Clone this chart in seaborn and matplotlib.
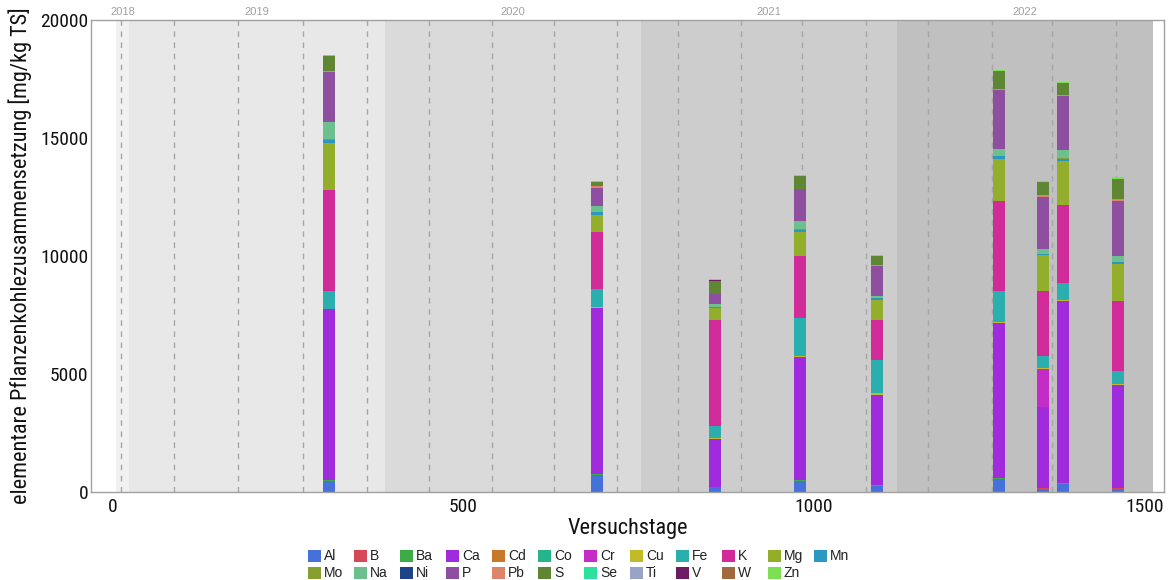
import matplotlib
matplotlib.use("Agg")
import matplotlib.pyplot as plt
import matplotlib.transforms as mtransforms
from matplotlib import font_manager as fm
from matplotlib.patches import Rectangle
import pandas as pd
import seaborn as sns

# Sampling days (Versuchstage) of the biochar analyses
days = [309, 691, 860, 980, 1091, 1265, 1328, 1356, 1435]

elements = ["Al", "B", "Ba", "Ca", "Cd", "Co", "Cr", "Cu", "Fe", "K", "Mg", "Mn",
            "Mo", "Na", "Ni", "P", "Pb", "S", "Se", "Ti", "V", "W", "Zn"]

# Element contents per sampling day [mg/kg TS]
al = [453, 700, 212, 453, 254, 551, 127, 360, 114]
b = [0, 0, 0, 0, 0, 0, 55, 0, 68]
ba = [55, 50, 0, 55, 42, 30, 0, 40, 0]
ca = [7245, 7050, 2020, 5200, 3813, 6567, 3432, 7690, 4339]
cd = [0, 0, 0, 0, 0, 0, 0, 0, 0]
co = [0, 0, 0, 0, 0, 0, 0, 0, 0]
cr = [0, 0, 0, 0, 0, 0, 1597, 0, 0]
cu = [20, 50, 55, 42, 70, 40, 55, 30, 55]
fe = [763, 750, 495, 1624, 1412, 1316, 508, 734, 551]
k = [4280, 2400, 4490, 2627, 1695, 3813, 2741, 3305, 2966]
mg = [1990, 750, 520, 1017, 847, 1780, 1513, 1850, 1568]
mn = [127, 100, 42, 85, 85, 127, 55, 120, 85]
mo = [20, 20, 10, 20, 15, 20, 20, 20, 20]
na = [720, 250, 113, 339, 85, 297, 212, 330, 254]
ni = [0, 0, 0, 0, 0, 0, 0, 0, 0]
p = [2120, 750, 424, 1356, 1271, 2487, 2203, 2300, 2330]
pb = [42, 80, 20, 20, 20, 30, 55, 60, 72]
s = [636, 200, 550, 565, 380, 763, 551, 480, 847]
se = [0, 0, 0, 0, 0, 0, 0, 0, 0]
ti = [0, 0, 0, 0, 0, 0, 0, 0, 0]
v = [0, 0, 40, 0, 0, 0, 0, 0, 0]
w = [0, 0, 0, 0, 0, 0, 0, 0, 0]
zn = [55, 40, 30, 42, 40, 68, 42, 60, 68]

element_values = [al, b, ba, ca, cd, co, cr, cu, fe, k, mg, mn,
                  mo, na, ni, p, pb, s, se, ti, v, w, zn]

element_colors = ["#4671DB", "#D64855", "#3CAD46", "#A02BDD", "#C97729", "#26B48C",
                  "#C42CC8", "#C3BA2A", "#2AAEAE", "#D02B98", "#93AE2A", "#2A98C0",
                  "#879F2D", "#6CC08D", "#1C4486", "#8F4FA0", "#DD846A", "#5F8733",
                  "#2EE09E", "#99A3C8", "#6E1B66", "#A06A3C", "#7DE052"]

# Calendar years along the day axis
years = ["2018", "2019", "2020", "2021", "2022"]
year_start = [5, 23, 388, 754, 1119]
year_end = [23, 388, 754, 1119, 1484]
year_shade = ["#f1f1f1", "#e8e8e8", "#dadada", "#cdcdcd", "#c0c0c0"]

# Dashed reference lines (every ~3 months)
marker_days = [12, 87, 179, 272, 363, 451, 541, 630, 720, 806, 896, 983,
               1075, 1163, 1254, 1340, 1431]

bar_width = 17

rows = []
for el, vals in zip(elements, element_values):
    for d, val in zip(days, vals):
        rows.append({"Versuchstag": d, "Element": el, "Gehalt": val})
df = pd.DataFrame(rows)

sns.set_theme(style="white")
available = {f.name for f in fm.fontManager.ttflist}
narrow = next((n for n in ["Liberation Sans Narrow", "Roboto Condensed", "Open Sans Condensed"]
               if n in available), "Liberation Sans")
plt.rcParams["font.family"] = ["Liberation Sans", "DejaVu Sans"]

W, H = 1171, 580
fig = plt.figure(figsize=(W / 100, H / 100), dpi=100)
ax = fig.add_axes([91 / W, (H - 492) / H, (1164 - 91) / W, (492 - 20) / H])

for ys, ye, c in zip(year_start, year_end, year_shade):
    ax.axvspan(ys, ye, color=c, lw=0, zorder=0)
for md in marker_days:
    ax.axvline(md, color="#a6a6a6", lw=1.0, ls=(0, (4, 4)), zorder=0.5)

edges = sorted([d - bar_width / 2 for d in days] + [d + bar_width / 2 for d in days])
palette = dict(zip(elements, element_colors))
sns.histplot(data=df, x="Versuchstag", weights="Gehalt", hue="Element",
             hue_order=elements[::-1], palette=palette, multiple="stack",
             bins=edges, alpha=1, linewidth=0, legend=False, ax=ax, zorder=2)

ax.set_xlim(-31, 1500)
ax.set_ylim(0, 20000)
ax.set_xticks([0, 500, 1000, 1500])
ax.set_yticks([0, 5000, 10000, 15000, 20000])
ax.tick_params(length=0, labelsize=14, colors="#111111")
ax.tick_params(axis="x", pad=4)
ax.tick_params(axis="y", pad=2)
for lab in ax.get_xticklabels() + ax.get_yticklabels():
    lab.set_family([narrow, "DejaVu Sans"])
ax.get_xticklabels()[-1].set_horizontalalignment("right")

ax.set_xlabel("Versuchstage", fontsize=16, family=[narrow, "DejaVu Sans"],
              color="#111111", labelpad=2)
ax.set_ylabel("elementare Pflanzenkohlezusammensetzung [mg/kg TS]", fontsize=16,
              family=[narrow, "DejaVu Sans"], color="#111111", labelpad=6)

for sp in ax.spines.values():
    sp.set_color("#a0a0a0")
    sp.set_linewidth(1.0)

trans = mtransforms.blended_transform_factory(ax.transData, ax.transAxes)
for yr, ys, ye in zip(years, year_start, year_end):
    ax.text((ys + ye) / 2, 1.006, yr, transform=trans, ha="center", va="bottom",
            fontsize=8, color="#a0a0a0")

# Legend laid out in a fixed grid of 12 columns
col_step, x0 = 46, 308
row_y = [556, 573]
for i, (el, c) in enumerate(zip(elements, element_colors)):
    r, cidx = divmod(i, 12)
    x = x0 + cidx * col_step
    yc = row_y[r]
    fig.add_artist(Rectangle((x / W, 1 - (yc + 6) / H), 13 / W, 12 / H,
                             transform=fig.transFigure, facecolor=c, edgecolor="none"))
    fig.text((x + 16) / W, 1 - yc / H, el, ha="left", va="center",
             fontsize=10, color="#222222")

fig.savefig("out.png", dpi=100)
